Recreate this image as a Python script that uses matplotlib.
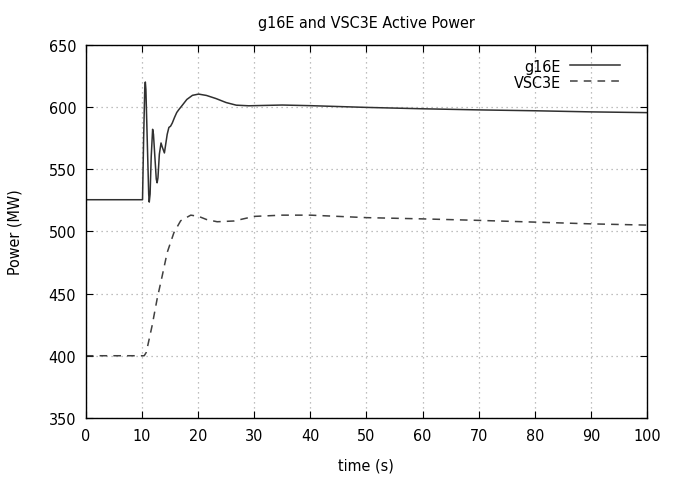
import matplotlib
matplotlib.use("Agg")
import matplotlib.pyplot as plt

# g16E active power (MW)
t_g = [0, 10.1, 10.3, 10.5, 10.6, 10.7, 10.95, 11.2, 11.3, 11.45, 11.65, 11.9, 12.05, 12.3,
       12.55, 12.7, 12.85, 13.1, 13.4, 13.6, 14.0, 14.2, 14.5, 14.8, 15.1, 15.4, 15.8, 16.2,
       16.6, 17.1, 18.0, 19.0, 20.1, 21.5, 23.2, 25.0, 26.8, 29.0, 32.0, 35.0, 40.0,
       50.0, 60.0, 70.0, 80.0, 90.0, 100.0]
p_g = [525.4, 525.4, 575, 615, 620, 614, 572, 530, 523.5, 530, 560, 582, 578, 560,
       542, 539, 543, 562, 571, 568, 563, 569, 578, 583.5, 584.5, 587, 591.5, 595.5,
       598, 600.8, 606, 609.3, 610.3, 609.2, 606.7, 603.5, 601.4, 600.9, 601.2, 601.5, 601.0,
       599.6, 598.5, 597.6, 596.9, 596.0, 595.4]

# VSC3E active power (MW)
t_v = [0, 10.0, 10.4, 10.77, 11.8, 12.7, 13.6, 14.5, 15.7, 16.9, 18.7, 20.1, 21.5, 23.4,
       26.4, 30.0, 35.0, 40.0, 50.0, 60.0, 70.0, 80.0, 90.0, 100.0]
p_v = [400, 400, 400, 402.7, 424, 445.6, 464, 483, 499, 508.5, 513, 512, 509.5, 507.7,
       508.3, 512, 513, 513, 511, 510, 508.8, 507.4, 506.0, 505.0]

x_ticks = [0, 10, 20, 30, 40, 50, 60, 70, 80, 90, 100]
y_ticks = [350, 400, 450, 500, 550, 600, 650]

plt.rcParams['font.family'] = ['DejaVu Sans']
plt.rcParams['font.stretch'] = 'condensed'
fig = plt.figure(figsize=(6.76, 4.81), dpi=100)
ax = fig.add_axes([0.127, 0.129, 0.830, 0.776])

ax.plot(t_g, p_g, color='#303030', lw=1.1, label='g16E')
ax.plot(t_v, p_v, color='#404040', lw=1.1, ls=(0, (5, 4)), label='VSC3E')

ax.set_xlim(0, 100)
ax.set_ylim(350, 650)
ax.set_xticks(x_ticks)
ax.set_yticks(y_ticks)
ax.tick_params(direction='in', top=True, right=True, length=5, labelsize=11.5, pad=7)
ax.grid(True, color='#aaaaaa', ls=(0, (1, 3)), lw=0.9)
for s in ax.spines.values():
    s.set_linewidth(1.0)
    s.set_color('black')

ax.set_xlabel('time (s)', fontsize=11.5, labelpad=11)
ax.set_ylabel('Power (MW)', fontsize=11.5, labelpad=19)
ax.set_title('g16E and VSC3E Active Power', fontsize=11.5, pad=13)

leg = ax.legend(loc='upper right', frameon=False, markerfirst=False, fontsize=11.5,
                handlelength=3.1, handletextpad=0.6, labelspacing=0.05,
                borderaxespad=0.6, bbox_to_anchor=(0.98, 1.005))
for txt in leg.get_texts():
    txt.set_ha('right')

fig.savefig('out.png', dpi=100)
